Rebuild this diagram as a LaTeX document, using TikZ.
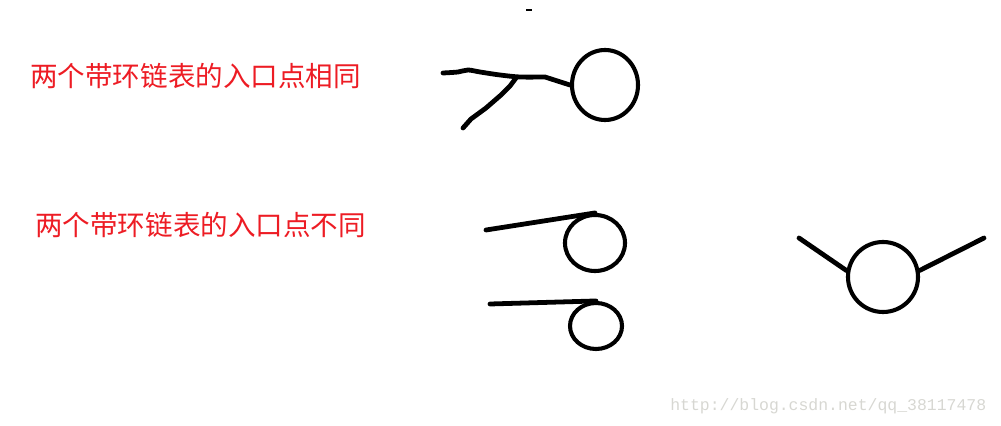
\documentclass[tikz,border=0pt]{standalone}
\usepackage{fontspec}
\newfontfamily\cjk{Noto Sans CJK SC}
\setmonofont{Liberation Mono}
\usetikzlibrary{shapes.geometric}

\begin{document}
\begin{tikzpicture}[x=0.025cm, y=-0.025cm]
    % Define colors
    \definecolor{paintred}{RGB}{237, 28, 36} % the red of the two captions
    \definecolor{markgray}{RGB}{215, 215, 210} % the pale watermark

    % Styles for the loops and the freehand strokes
    \tikzset{
      ring/.style={draw, ellipse, line width=2.9pt, inner sep=0pt},
      tail/.style={line width=3.4pt, line cap=round, line join=round},
      caption/.style={anchor=west, inner sep=0pt, text=paintred, font=\cjk\fontsize{19.6}{22}\selectfont},
    }

    % Fix the size of the page
    \useasboundingbox (0, 0) rectangle (1001, 426);

    % Captions
    \node[caption] (same) at (30, 76) {两个带环链表的入口点相同};
    \node[caption] (diff) at (35, 225) {两个带环链表的入口点不同};

    % Small mark at the top
    \draw[line width=1pt, black] (526, 10) -- (532, 10);

    % Case 1: both lists join before the loop
    \node[ring, minimum width=1.65cm, minimum height=1.75cm] (loopA) at (605, 85) {};
    \draw[tail] plot[smooth] coordinates {(443, 73) (458, 72) (468, 70) (480, 72) (500, 75) (520, 77) (545, 77)} -- (loopA.west);
    \draw[tail] (516, 78) -- (510, 86) -- (501, 95) -- (486, 108) -- (471, 119) -- (463, 128);

    % Case 2: two lists, each with a loop of its own
    \node[ring, minimum width=1.5cm, minimum height=1.4cm] (loopB) at (595, 243) {};
    \node[ring, minimum width=1.3cm, minimum height=1.15cm] (loopC) at (596, 326) {};
    \coordinate (startB) at (486, 230);
    \coordinate (startC) at (490, 304);
    \draw[tail] (startB) -- (loopB.north);
    \draw[tail] (startC) -- (loopC.north);

    % Case 2: both lists enter one loop at different points
    \node[ring, minimum width=1.75cm, minimum height=1.75cm] (loopD) at (883, 277) {};
    \coordinate (startD) at (799, 238);
    \coordinate (startE) at (984, 238);
    \draw[tail] (startD) -- (loopD.170);
    \draw[tail] (startE) -- (loopD.10);

    % Watermark
    \node[anchor=west, inner sep=0pt, text=markgray, font=\ttfamily\fontsize{11.7}{13}\selectfont] (mark) at (670, 406) {http://blog.csdn.net/qq\_38117478};
\end{tikzpicture}
\end{document}
